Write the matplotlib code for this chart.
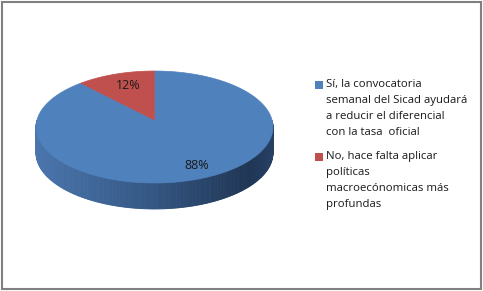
import numpy as np
import matplotlib
matplotlib.use("Agg")
import matplotlib.pyplot as plt
from matplotlib.patches import Polygon, Rectangle

labels = ["Sí, la convocatoria\nsemanal del Sicad ayudará\na reducir el diferencial\ncon la tasa  oficial",
          "No, hace falta aplicar\npolíticas\nmacroecónomicas más\nprofundas"]
values = [88, 12]
pct_labels = ["88%", "12%"]
top_colors = ["#4F81BD", "#C0504D"]

W, H = 483, 291
fig = plt.figure(figsize=(W / 100, H / 100), dpi=100)
ax = fig.add_axes([0, 0, 1, 1])
ax.set_xlim(0, W)
ax.set_ylim(H, 0)
ax.axis("off")

# pie geometry (pixels), simple perspective
cx, cy, a, b, k, depth = 154.5, 120, 117.5, 55.1, 0.125, 26


def proj(theta, r=1.0, dz=0.0):
    c, s = r * np.cos(theta), r * np.sin(theta)
    f = 1.0 / (1 + k * s)
    return cx + a * c * f, cy - b * s * f + dz


fracs = np.array(values) / sum(values)
starts = np.pi / 2 - np.concatenate([[0], np.cumsum(fracs)[:-1]]) * 2 * np.pi
ends = starts - fracs * 2 * np.pi

# side of the pie (front half only)
side_stops = [(0.0, (0.29, 0.46, 0.68)), (0.45, (0.21, 0.35, 0.53)),
              (0.9, (0.12, 0.21, 0.33)), (1.0, (0.15, 0.25, 0.39))]


def side_color(t, red=False):
    ts = [p[0] for p in side_stops]
    col = np.array([np.interp(t, ts, [p[1][i] for p in side_stops]) for i in range(3)])
    if red:
        col = col[[2, 1, 0]] * np.array([1.6, 0.7, 0.7])
        col = np.clip(col, 0, 1)
    return col


n = 400
for i, (st, en) in enumerate(zip(starts, ends)):
    th = np.linspace(en, st, n)
    th_n = np.mod(th, 2 * np.pi)
    for j in range(n - 1):
        t0, t1 = th_n[j], th_n[j + 1]
        if not (np.pi <= t0 <= 2 * np.pi and np.pi <= t1 <= 2 * np.pi):
            continue
        x0, y0 = proj(t0)
        x1, y1 = proj(t1)
        t = ((x0 + x1) / 2 - (cx - a)) / (2 * a)
        poly = Polygon([(x0, y0), (x1, y1), (x1, y1 + depth), (x0, y0 + depth)],
                       closed=True, facecolor=side_color(t, i == 1),
                       edgecolor=side_color(t, i == 1), lw=0.6)
        ax.add_patch(poly)

# top face
for i, (st, en) in enumerate(zip(starts, ends)):
    th = np.linspace(st, en, 300)
    xs, ys = proj(th)
    pts = [(cx, cy)] + list(zip(xs, ys))
    ax.add_patch(Polygon(pts, closed=True, facecolor=top_colors[i],
                         edgecolor=top_colors[i], lw=0.5))

# percentage labels
for i, (st, en) in enumerate(zip(starts, ends)):
    mid = (st + en) / 2
    lx, ly = proj(mid, r=0.78)
    ax.text(lx + 5, ly + 2, pct_labels[i], ha="center", va="center",
            fontsize=9, family="Open Sans", color="#1a1a1a")

# legend
leg_y = [85, 157]
for i, lab in enumerate(labels):
    ax.add_patch(Rectangle((315, leg_y[i] - 4), 8, 8, facecolor=top_colors[i],
                           edgecolor="none"))
    for j, line in enumerate(lab.split("\n")):
        ax.text(326, leg_y[i] + j * 15.7, line, ha="left", va="center",
                fontsize=8.2, family="Open Sans", color="#1a1a1a")

# outer border
ax.add_patch(Rectangle((1.5, 1.5), W - 3.5, H - 3.5, facecolor="none",
                       edgecolor="#808080", lw=1.5))

fig.savefig("out.png", dpi=100)
